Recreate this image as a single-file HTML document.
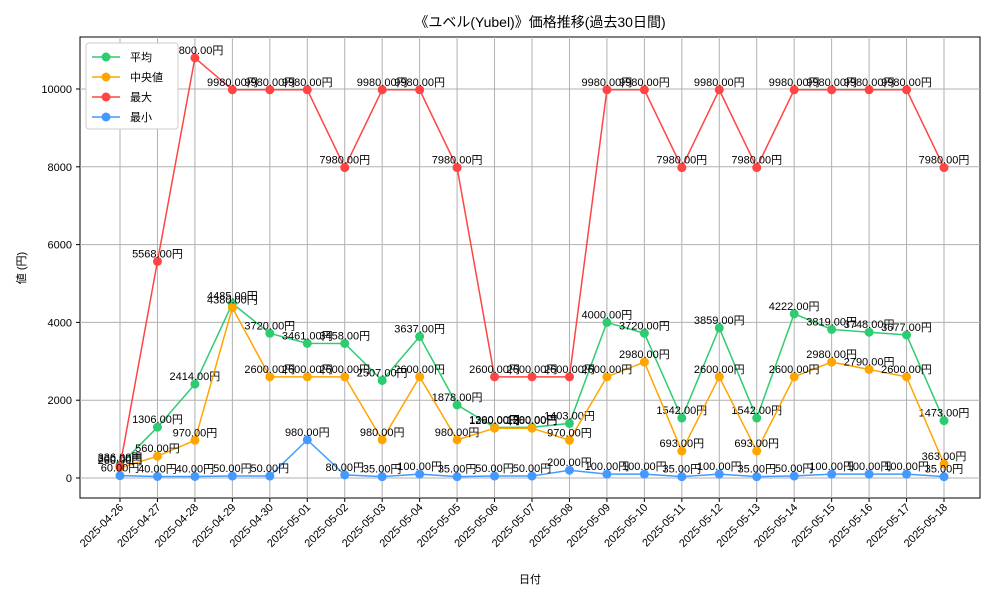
<!DOCTYPE html>
<html><head><meta charset="utf-8"><style>
body{margin:0;background:#fff;font-family:"Liberation Sans","Noto Sans CJK JP",sans-serif}
svg text{font-family:"Liberation Sans","Noto Sans CJK JP",sans-serif}
</style></head><body>
<svg id="c" width="1000" height="600" xmlns="http://www.w3.org/2000/svg">
<rect width="1000" height="600" fill="#fff"/>
<text x="540" y="27" text-anchor="middle" font-size="14">《ユベル(Yubel)》価格推移(過去30日間)</text>
<rect x="80" y="37" width="900" height="461" fill="none" stroke="#000" stroke-width="1"/>
<g id="grid"></g><g id="axes"></g><g id="series"></g>
<text x="530" y="583" text-anchor="middle" font-size="11">日付</text>
<text transform="translate(25,268) rotate(-90)" text-anchor="middle" font-size="11">値 (円)</text>
<g id="legend"></g>
</svg>
<script>
const dates=["2025-04-26","2025-04-27","2025-04-28","2025-04-29","2025-04-30","2025-05-01","2025-05-02","2025-05-03","2025-05-04","2025-05-05","2025-05-06","2025-05-07","2025-05-08","2025-05-09","2025-05-10","2025-05-11","2025-05-12","2025-05-13","2025-05-14","2025-05-15","2025-05-16","2025-05-17","2025-05-18"];
const avgVals=[336,1306,2414,4485,3720,3461,3458,2507,3637,1878,1300,1300,1403,4000,3720,1542,3859,1542,4222,3819,3748,3677,1473];
const medVals=[260,560,970,4380,2600,2600,2600,980,2600,980,1280,1280,970,2600,2980,693,2600,693,2600,2980,2790,2600,363];
const maxVals=[300,5568,10800,9980,9980,9980,7980,9980,9980,7980,2600,2600,2600,9980,9980,7980,9980,7980,9980,9980,9980,9980,7980];
const minVals=[60,40,40,50,50,980,80,35,100,35,50,50,200,100,100,35,100,35,50,100,100,100,35];
const yTicks=[0,2000,4000,6000,8000,10000];
const seriesNames=["平均","中央値","最大","最小"];
const NS="http://www.w3.org/2000/svg";
const xs=i=>120+i*(944-120)/(dates.length-1);
const ys=v=>478-v*(478-89)/10000;
function mk(t,a,p){const e=document.createElementNS(NS,t);for(const k in a)e.setAttribute(k,a[k]);p.appendChild(e);return e;}
const grid=document.getElementById('grid'),axes=document.getElementById('axes'),ser=document.getElementById('series');
dates.forEach((d,i)=>{
 const l=mk('line',{x1:xs(i),x2:xs(i),y1:37,y2:498,stroke:'#b0b0b0','stroke-width':1},grid);
 
 mk('line',{x1:xs(i),x2:xs(i),y1:498,y2:502,stroke:'#000'},axes);
 const t=mk('text',{x:xs(i)+4,y:508,'font-size':11,'text-anchor':'end',transform:`rotate(-45 ${xs(i)+4} 508)`},axes);
 t.textContent=d;
 
});
yTicks.forEach(v=>{
 const l=mk('line',{x1:80,x2:980,y1:ys(v),y2:ys(v),stroke:'#b0b0b0','stroke-width':1},grid);
 
 mk('line',{x1:76,x2:80,y1:ys(v),y2:ys(v),stroke:'#000'},axes);
 const t=mk('text',{x:72,y:ys(v)+4,'font-size':11,'text-anchor':'end'},axes);
 t.textContent=v;
 
});
const all=[[avgVals,'#2ecc71'],[medVals,'#ffa500'],[maxVals,'#ff4444'],[minVals,'#4499ff']];
all.forEach(([vals,col],si)=>{
 const g=mk('g',{},ser);
 
 
 const pl=mk('polyline',{points:vals.map((v,i)=>xs(i)+','+ys(v)).join(' '),fill:'none',stroke:col,'stroke-width':1.5},g);
 
 vals.forEach((v,i)=>{
  const c=mk('circle',{cx:xs(i),cy:ys(v),r:4.5,fill:col},g);
  
  const t=mk('text',{x:xs(i),y:ys(v)-4,'font-size':11,'text-anchor':'middle'},g);
  t.textContent=v.toFixed(2)+'円';
  
 });
});
const lg=document.getElementById('legend');
mk('rect',{x:86,y:43,width:92,height:86,fill:'#fff',stroke:'#ccc',rx:3},lg);
seriesNames.forEach((n,i)=>{
 const y=57+i*20,col=all[i][1];
 const e=mk('g',{},lg);
 
 mk('line',{x1:92,x2:120,y1:y,y2:y,stroke:col,'stroke-width':1.5},e);
 mk('circle',{cx:106,cy:y,r:4.5,fill:col},e);
 const t=mk('text',{x:130,y:y+4,'font-size':11},e);t.textContent=n;
});
</script>
</body></html>
